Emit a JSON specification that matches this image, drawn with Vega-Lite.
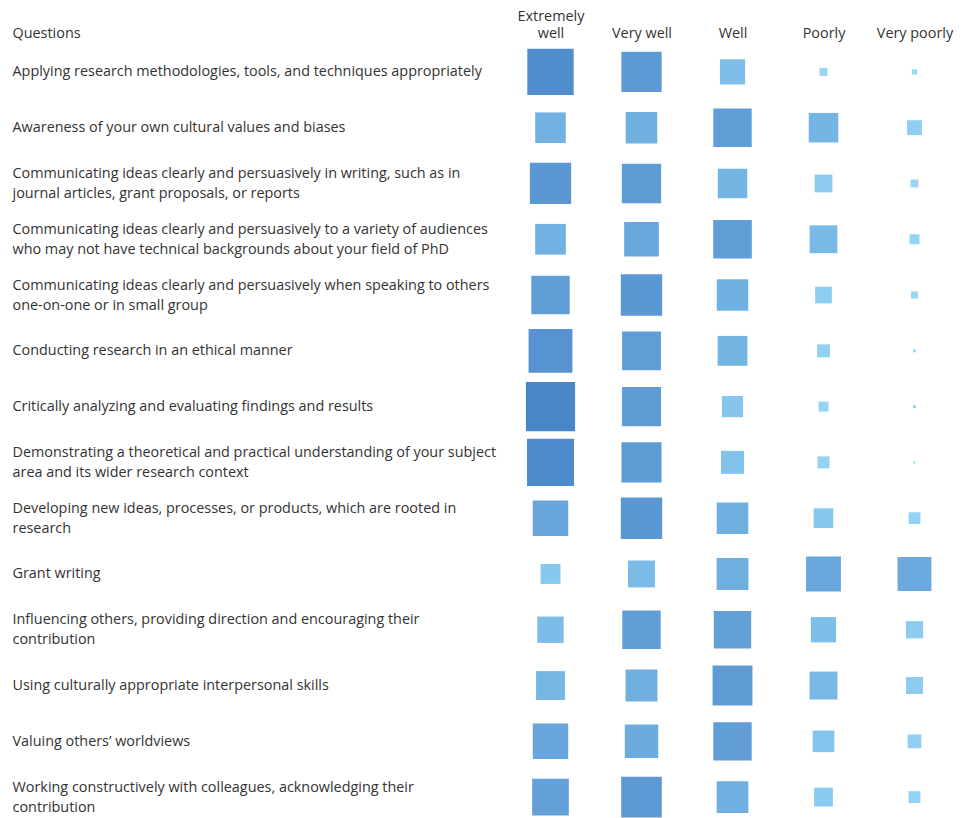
{
  "$schema": "https://vega.github.io/schema/vega-lite/v6.json",
  "width": 455,
  "height": 781,
  "autosize": {"type": "none"},
  "padding": {"left": 505, "top": 44, "right": 1, "bottom": 0},
  "background": "white",
  "config": {"view": {"stroke": null}, "font": "Open Sans"},
  "data": {"values": [
    {"question": "Applying research methodologies, tools, and techniques appropriately", "rating": "Extremely well", "percent": 47.8},
    {"question": "Applying research methodologies, tools, and techniques appropriately", "rating": "Very well", "percent": 36.1},
    {"question": "Applying research methodologies, tools, and techniques appropriately", "rating": "Well", "percent": 14.1},
    {"question": "Applying research methodologies, tools, and techniques appropriately", "rating": "Poorly", "percent": 1.4},
    {"question": "Applying research methodologies, tools, and techniques appropriately", "rating": "Very poorly", "percent": 0.6},
    {"question": "Awareness of your own cultural values and biases", "rating": "Extremely well", "percent": 20.8},
    {"question": "Awareness of your own cultural values and biases", "rating": "Very well", "percent": 22.1},
    {"question": "Awareness of your own cultural values and biases", "rating": "Well", "percent": 32.8},
    {"question": "Awareness of your own cultural values and biases", "rating": "Poorly", "percent": 19.4},
    {"question": "Awareness of your own cultural values and biases", "rating": "Very poorly", "percent": 4.9},
    {"question": "Communicating ideas clearly and persuasively in writing, such as in journal articles, grant proposals, or reports", "rating": "Extremely well", "percent": 37.9},
    {"question": "Communicating ideas clearly and persuasively in writing, such as in journal articles, grant proposals, or reports", "rating": "Very well", "percent": 34.4},
    {"question": "Communicating ideas clearly and persuasively in writing, such as in journal articles, grant proposals, or reports", "rating": "Well", "percent": 19.3},
    {"question": "Communicating ideas clearly and persuasively in writing, such as in journal articles, grant proposals, or reports", "rating": "Poorly", "percent": 7.0},
    {"question": "Communicating ideas clearly and persuasively in writing, such as in journal articles, grant proposals, or reports", "rating": "Very poorly", "percent": 1.4},
    {"question": "Communicating ideas clearly and persuasively to a variety of audiences who may not have technical backgrounds about your field of PhD", "rating": "Extremely well", "percent": 20.9},
    {"question": "Communicating ideas clearly and persuasively to a variety of audiences who may not have technical backgrounds about your field of PhD", "rating": "Very well", "percent": 26.7},
    {"question": "Communicating ideas clearly and persuasively to a variety of audiences who may not have technical backgrounds about your field of PhD", "rating": "Well", "percent": 33.1},
    {"question": "Communicating ideas clearly and persuasively to a variety of audiences who may not have technical backgrounds about your field of PhD", "rating": "Poorly", "percent": 17.1},
    {"question": "Communicating ideas clearly and persuasively to a variety of audiences who may not have technical backgrounds about your field of PhD", "rating": "Very poorly", "percent": 2.2},
    {"question": "Communicating ideas clearly and persuasively when speaking to others one-on-one or in small group", "rating": "Extremely well", "percent": 32.7},
    {"question": "Communicating ideas clearly and persuasively when speaking to others one-on-one or in small group", "rating": "Very well", "percent": 38.0},
    {"question": "Communicating ideas clearly and persuasively when speaking to others one-on-one or in small group", "rating": "Well", "percent": 22.0},
    {"question": "Communicating ideas clearly and persuasively when speaking to others one-on-one or in small group", "rating": "Poorly", "percent": 6.2},
    {"question": "Communicating ideas clearly and persuasively when speaking to others one-on-one or in small group", "rating": "Very poorly", "percent": 1.1},
    {"question": "Conducting research in an ethical manner", "rating": "Extremely well", "percent": 42.7},
    {"question": "Conducting research in an ethical manner", "rating": "Very well", "percent": 33.5},
    {"question": "Conducting research in an ethical manner", "rating": "Well", "percent": 19.8},
    {"question": "Conducting research in an ethical manner", "rating": "Poorly", "percent": 3.7},
    {"question": "Conducting research in an ethical manner", "rating": "Very poorly", "percent": 0.2},
    {"question": "Critically analyzing and evaluating findings and results", "rating": "Extremely well", "percent": 53.7},
    {"question": "Critically analyzing and evaluating findings and results", "rating": "Very well", "percent": 34.0},
    {"question": "Critically analyzing and evaluating findings and results", "rating": "Well", "percent": 9.9},
    {"question": "Critically analyzing and evaluating findings and results", "rating": "Poorly", "percent": 2.2},
    {"question": "Critically analyzing and evaluating findings and results", "rating": "Very poorly", "percent": 0.2},
    {"question": "Demonstrating a theoretical and practical understanding of your subject area and its wider research context", "rating": "Extremely well", "percent": 49.2},
    {"question": "Demonstrating a theoretical and practical understanding of your subject area and its wider research context", "rating": "Very well", "percent": 35.7},
    {"question": "Demonstrating a theoretical and practical understanding of your subject area and its wider research context", "rating": "Well", "percent": 11.8},
    {"question": "Demonstrating a theoretical and practical understanding of your subject area and its wider research context", "rating": "Poorly", "percent": 3.2},
    {"question": "Demonstrating a theoretical and practical understanding of your subject area and its wider research context", "rating": "Very poorly", "percent": 0.1},
    {"question": "Developing new ideas, processes, or products, which are rooted in research", "rating": "Extremely well", "percent": 28.0},
    {"question": "Developing new ideas, processes, or products, which are rooted in research", "rating": "Very well", "percent": 38.1},
    {"question": "Developing new ideas, processes, or products, which are rooted in research", "rating": "Well", "percent": 22.1},
    {"question": "Developing new ideas, processes, or products, which are rooted in research", "rating": "Poorly", "percent": 8.6},
    {"question": "Developing new ideas, processes, or products, which are rooted in research", "rating": "Very poorly", "percent": 3.1},
    {"question": "Grant writing", "rating": "Extremely well", "percent": 8.8},
    {"question": "Grant writing", "rating": "Very well", "percent": 16.1},
    {"question": "Grant writing", "rating": "Well", "percent": 22.6},
    {"question": "Grant writing", "rating": "Poorly", "percent": 27.0},
    {"question": "Grant writing", "rating": "Very poorly", "percent": 25.5},
    {"question": "Influencing others, providing direction and encouraging their contribution", "rating": "Extremely well", "percent": 15.4},
    {"question": "Influencing others, providing direction and encouraging their contribution", "rating": "Very well", "percent": 32.8},
    {"question": "Influencing others, providing direction and encouraging their contribution", "rating": "Well", "percent": 31.1},
    {"question": "Influencing others, providing direction and encouraging their contribution", "rating": "Poorly", "percent": 14.2},
    {"question": "Influencing others, providing direction and encouraging their contribution", "rating": "Very poorly", "percent": 6.6},
    {"question": "Using culturally appropriate interpersonal skills", "rating": "Extremely well", "percent": 18.5},
    {"question": "Using culturally appropriate interpersonal skills", "rating": "Very well", "percent": 22.6},
    {"question": "Using culturally appropriate interpersonal skills", "rating": "Well", "percent": 35.3},
    {"question": "Using culturally appropriate interpersonal skills", "rating": "Poorly", "percent": 17.3},
    {"question": "Using culturally appropriate interpersonal skills", "rating": "Very poorly", "percent": 6.4},
    {"question": "Valuing others’ worldviews", "rating": "Extremely well", "percent": 27.9},
    {"question": "Valuing others’ worldviews", "rating": "Very well", "percent": 24.8},
    {"question": "Valuing others’ worldviews", "rating": "Well", "percent": 32.7},
    {"question": "Valuing others’ worldviews", "rating": "Poorly", "percent": 10.4},
    {"question": "Valuing others’ worldviews", "rating": "Very poorly", "percent": 4.2},
    {"question": "Working constructively with colleagues, acknowledging their contribution", "rating": "Extremely well", "percent": 29.9},
    {"question": "Working constructively with colleagues, acknowledging their contribution", "rating": "Very well", "percent": 36.7},
    {"question": "Working constructively with colleagues, acknowledging their contribution", "rating": "Well", "percent": 22.4},
    {"question": "Working constructively with colleagues, acknowledging their contribution", "rating": "Poorly", "percent": 7.9},
    {"question": "Working constructively with colleagues, acknowledging their contribution", "rating": "Very poorly", "percent": 3.1}
  ]},
  "mark": {"type": "square", "opacity": 1},
  "encoding": {
    "x": {
      "field": "rating",
      "type": "nominal",
      "sort": ["Extremely well", "Very well", "Well", "Poorly", "Very poorly"],
      "axis": {
        "orient": "top",
        "title": null,
        "labelAngle": 0,
        "domain": false,
        "ticks": false,
        "tickSize": 0,
        "labelPadding": {"condition": {"test": "datum.value == 'Extremely well'", "value": 21}, "value": 4},
        "labelBaseline": "bottom",
        "labelAlign": "center",
        "labelExpr": "datum.value == 'Extremely well' ? ['Extremely', 'well'] : datum.value",
        "labelFontSize": 14.4,
        "labelFontWeight": 500,
        "labelColor": "#333333",
        "labelLineHeight": 17
      }
    },
    "y": {
      "field": "question",
      "type": "nominal",
      "sort": null,
      "axis": {
        "title": "Questions",
        "titleAngle": 0,
        "titleAlign": "left",
        "titleBaseline": "alphabetic",
        "titleX": -493,
        "titleY": -7,
        "titleFontSize": 14.4,
        "titleFontWeight": 500,
        "titleColor": "#333333",
        "domain": false,
        "ticks": false,
        "tickSize": 0,
        "labelPadding": 493,
        "labelAlign": "left",
        "labelBaseline": "middle",
        "labelOffset": {"condition": {"test": "length(datum.value) > 71", "value": -10}, "value": 0},
        "labelLimit": 600,
        "labelFontSize": 14.4,
        "labelFontWeight": 500,
        "labelColor": "#333333",
        "labelLineHeight": 20,
        "labelOverlap": false,
        "labelExpr": "length(datum.value) > 71 ? [substring(datum.value, 0, lastindexof(substring(datum.value, 0, 72), ' ')), substring(datum.value, lastindexof(substring(datum.value, 0, 72), ' ') + 1)] : datum.value"
      }
    },
    "size": {
      "field": "percent",
      "type": "quantitative",
      "scale": {"domain": [0, 100], "range": [0, 4500], "zero": true},
      "legend": null
    },
    "color": {
      "field": "percent",
      "type": "quantitative",
      "scale": {"domain": [0, 30, 55], "range": ["#9ad8f6", "#64a1d9", "#4885c7"]},
      "legend": null
    }
  }
}
